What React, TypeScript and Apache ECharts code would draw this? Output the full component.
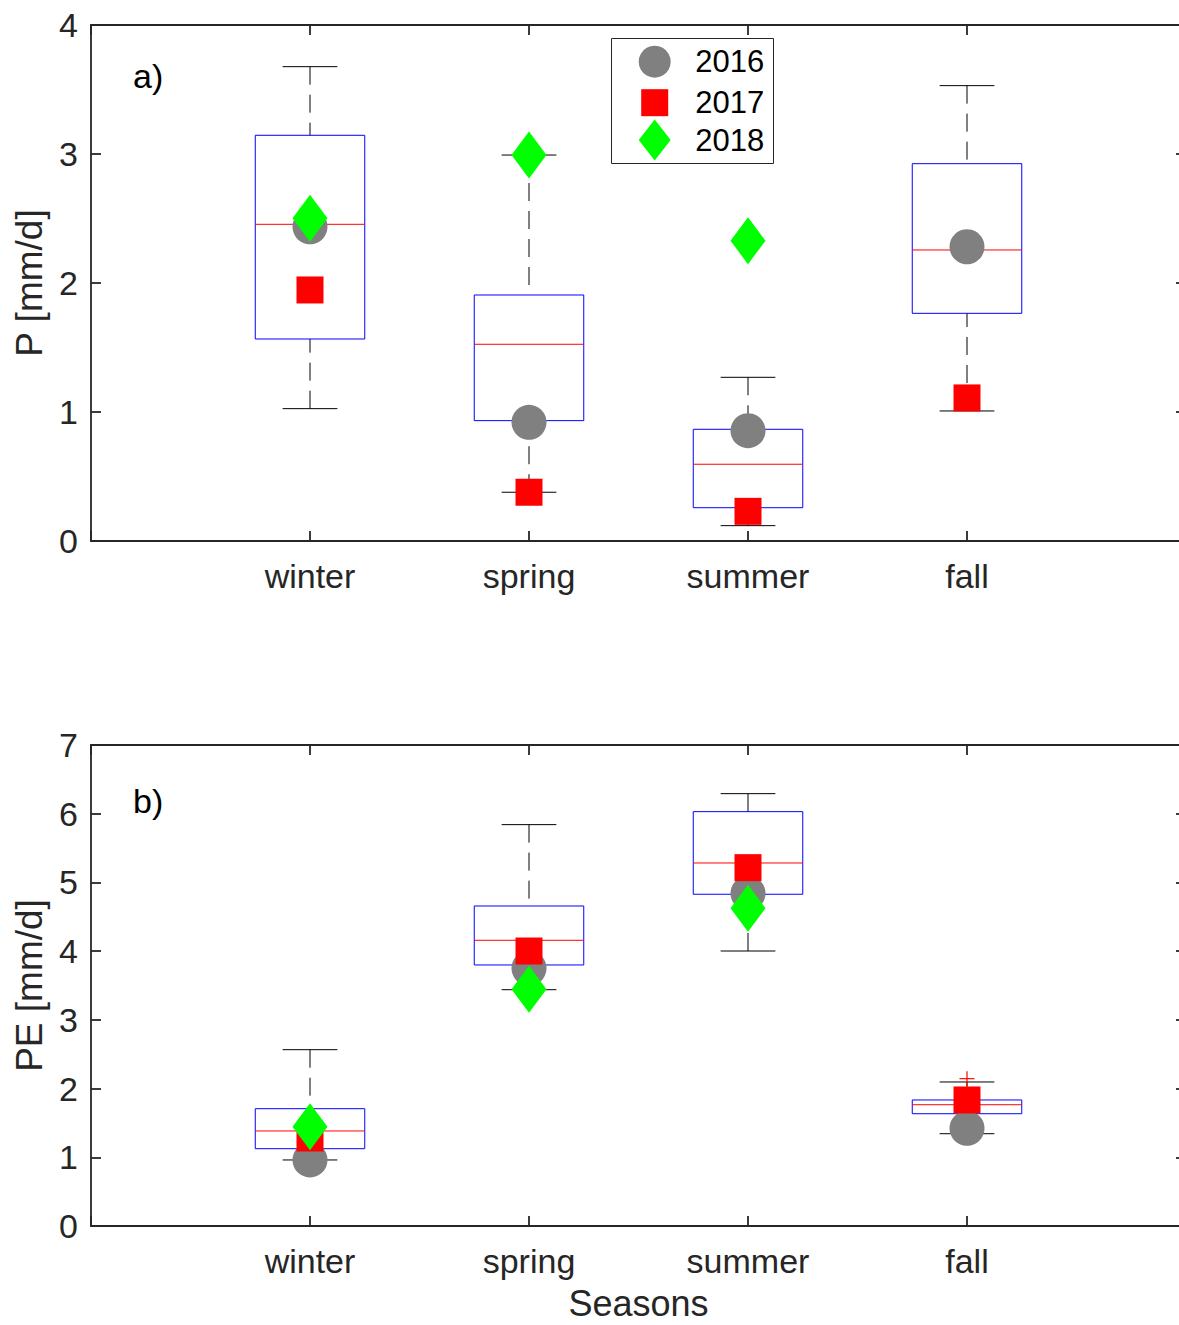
import React, { useEffect, useRef } from 'react';
import * as echarts from 'echarts';

// ---------- data ----------
const seasons = ['winter', 'spring', 'summer', 'fall'];
const years = ['2016', '2017', '2018'];

// Panel a) precipitation P [mm/d] box statistics
const pMin = [1.026, 0.378, 0.119, 1.008];
const pQ1 = [1.566, 0.933, 0.258, 1.765];
const pMedian = [2.455, 1.525, 0.595, 2.256];
const pQ3 = [3.145, 1.907, 0.866, 2.925];
const pMax = [3.677, 2.992, 1.269, 3.53];
// Panel a) yearly values
const p2016 = [2.436, 0.92, 0.855, 2.281];
const p2017 = [1.946, 0.378, 0.23, 1.109];
const p2018 = [2.502, 2.992, 2.328, null];

// Panel b) potential evaporation PE [mm/d] box statistics
const peMin = [0.961, 3.439, 4.002, 1.343];
const peQ1 = [1.125, 3.799, 4.828, 1.634];
const peMedian = [1.383, 4.158, 5.283, 1.765];
const peQ3 = [1.707, 4.657, 6.03, 1.834];
const peMax = [2.566, 5.841, 6.292, 2.096];
const peOutlierSeason = ['fall'];
const peOutlierValue = [2.144];
// Panel b) yearly values
const pe2016 = [0.961, 3.75, 4.842, 1.422];
const pe2017 = [1.281, 4.002, 5.215, 1.834];
const pe2018 = [1.445, 3.445, 4.624, null];

const pTicksMax = 4;
const peTicksMax = 7;

// ---------- helpers ----------
const FONT = '"Liberation Sans", Arial, Helvetica, sans-serif';
const AX = '#262626';

const boxData = (mn: number[], q1: number[], md: number[], q3: number[], mx: number[]) =>
  seasons.map((_, i) => [i + 1, mn[i], q1[i], md[i], q3[i], mx[i]]);

const pointData = (vals: (number | null)[]) =>
  vals.map((v, i) => (v == null ? null : [i + 1, v])).filter((d) => d !== null);

const renderBox = (_params: any, api: any) => {
  const x = api.value(0);
  const mn = api.value(1);
  const q1 = api.value(2);
  const md = api.value(3);
  const q3 = api.value(4);
  const mx = api.value(5);
  const half = 0.25;
  const capHalf = 0.125;
  const [xc, yMin] = api.coord([x, mn]);
  const yQ1 = api.coord([x, q1])[1];
  const yMd = api.coord([x, md])[1];
  const yQ3 = api.coord([x, q3])[1];
  const yMax = api.coord([x, mx])[1];
  const xl = api.coord([x - half, md])[0];
  const xr = api.coord([x + half, md])[0];
  const cl = api.coord([x - capHalf, md])[0];
  const cr = api.coord([x + capHalf, md])[0];
  const whisk = { stroke: '#000', lineWidth: 1, lineDash: [18, 10], fill: null };
  const cap = { stroke: '#000', lineWidth: 1, fill: null };
  return {
    type: 'group',
    children: [
      { type: 'line', shape: { x1: xc, y1: yMax, x2: xc, y2: yQ3 }, style: whisk },
      { type: 'line', shape: { x1: xc, y1: yMin, x2: xc, y2: yQ1 }, style: whisk },
      { type: 'line', shape: { x1: cl, y1: yMax, x2: cr, y2: yMax }, style: cap },
      { type: 'line', shape: { x1: cl, y1: yMin, x2: cr, y2: yMin }, style: cap },
      {
        type: 'rect',
        shape: { x: xl, y: yQ3, width: xr - xl, height: yQ1 - yQ3 },
        style: { fill: 'none', stroke: '#0000ff', lineWidth: 1 },
      },
      { type: 'line', shape: { x1: xl, y1: yMd, x2: xr, y2: yMd }, style: { stroke: '#ff0000', lineWidth: 1 } },
    ],
  };
};

const renderPlus = (_params: any, api: any) => {
  const [cx, cy] = api.coord([api.value(0), api.value(1)]);
  const h = 7.5;
  const st = { stroke: '#ff0000', lineWidth: 1.2 };
  return {
    type: 'group',
    children: [
      { type: 'line', shape: { x1: cx - h, y1: cy, x2: cx + h, y2: cy }, style: st },
      { type: 'line', shape: { x1: cx, y1: cy - h, x2: cx, y2: cy + h }, style: st },
    ],
  };
};

const xAxisDef = (gridIndex: number, position: string, labels: boolean, name?: string) => ({
  type: 'value',
  gridIndex,
  position,
  min: 0,
  max: seasons.length + 1,
  interval: 1,
  name: name || '',
  nameLocation: 'middle',
  nameGap: 62,
  nameTextStyle: { fontSize: 36, lineHeight: 30, color: AX, fontFamily: FONT },
  axisLine: { show: true, onZero: false, lineStyle: { color: AX, width: 1.8 } },
  axisTick: { show: true, inside: true, length: 10, lineStyle: { color: AX, width: 1.8 } },
  axisLabel: {
    show: labels,
    margin: 18,
    fontSize: 34,
    color: AX,
    fontFamily: FONT,
    formatter: (v: number) => seasons[v - 1] ?? '',
  },
  splitLine: { show: false },
});

const yAxisDef = (gridIndex: number, position: string, max: number, labels: boolean, name?: string) => ({
  type: 'value',
  gridIndex,
  position,
  min: 0,
  max,
  interval: 1,
  name: name || '',
  nameLocation: 'middle',
  nameGap: 41,
  nameTextStyle: { fontSize: 37, color: AX, fontFamily: FONT },
  axisLine: { show: true, onZero: false, lineStyle: { color: AX, width: 1.8 } },
  axisTick: { show: true, inside: true, length: 10, lineStyle: { color: AX, width: 1.8 } },
  axisLabel: { show: labels, margin: 13, fontSize: 34, color: AX, fontFamily: FONT },
  splitLine: { show: false },
});

const markerStyles: Record<string, { symbol: string; size: any; color: string; z: number }> = {
  '2016': { symbol: 'circle', size: 35, color: '#808080', z: 3 },
  '2017': { symbol: 'rect', size: 27, color: '#ff0000', z: 4 },
  '2018': { symbol: 'diamond', size: [35, 47], color: '#00ff00', z: 5 },
};

const markerSeries = (name: string, vals: (number | null)[], axis: number) => ({
  type: 'scatter',
  name,
  xAxisIndex: axis,
  yAxisIndex: axis,
  data: pointData(vals),
  symbol: markerStyles[name].symbol,
  symbolSize: markerStyles[name].size,
  itemStyle: { color: markerStyles[name].color, opacity: 1 },
  z: markerStyles[name].z,
  emphasis: { disabled: true },
  silent: true,
});

const legendDef = (name: string, icon: string, w: number, h: number, left: number, top: number, pad: number) => ({
  data: [name],
  icon,
  itemWidth: w,
  itemHeight: h,
  left,
  top,
  padding: 0,
  orient: 'vertical',
  selectedMode: false,
  z: 6,
  textStyle: { fontSize: 31, color: '#000', fontFamily: FONT, lineHeight: 24, padding: [0, 0, 0, pad] },
});

export default function App() {
  const ref = useRef<HTMLDivElement>(null);

  useEffect(() => {
    document.body.style.margin = '0';
    if (!ref.current) return;
    const chart = echarts.init(ref.current, null, { renderer: 'svg' });

    const option: any = {
      animation: false,
      backgroundColor: '#ffffff',
      textStyle: { fontFamily: FONT },
      grid: [
        { left: 91, top: 25, width: 1095, height: 516, outerBoundsMode: 'none', containLabel: false },
        { left: 91, top: 745, width: 1095, height: 481, outerBoundsMode: 'none', containLabel: false },
      ],
      xAxis: [
        xAxisDef(0, 'bottom', true),
        xAxisDef(0, 'top', false),
        xAxisDef(1, 'bottom', true, 'Seasons'),
        xAxisDef(1, 'top', false),
      ],
      yAxis: [
        yAxisDef(0, 'left', pTicksMax, true, 'P [mm/d]'),
        yAxisDef(0, 'right', pTicksMax, false),
        yAxisDef(1, 'left', peTicksMax, true, 'PE [mm/d]'),
        yAxisDef(1, 'right', peTicksMax, false),
      ],
      legend: [
        legendDef(years[0], 'circle', 32, 32, 638.7, 45.7, 19.5),
        legendDef(years[1], 'rect', 27, 27, 641.2, 87.2, 22),
        legendDef(years[2], 'diamond', 32, 41, 638.7, 119.5, 19.5),
      ],
      graphic: [
        {
          type: 'rect',
          z: 5,
          shape: { x: 611.5, y: 38.5, width: 162, height: 125 },
          style: { fill: '#ffffff', stroke: AX, lineWidth: 1 },
        },
        {
          type: 'text',
          x: 133,
          y: 76,
          z: 6,
          style: { text: 'a)', fontSize: 34, fill: '#000', fontFamily: FONT, verticalAlign: 'middle' },
        },
        {
          type: 'text',
          x: 133,
          y: 801,
          z: 6,
          style: { text: 'b)', fontSize: 34, fill: '#000', fontFamily: FONT, verticalAlign: 'middle' },
        },
      ],
      series: [
        {
          type: 'custom',
          name: 'P box',
          xAxisIndex: 0,
          yAxisIndex: 0,
          renderItem: renderBox,
          encode: { x: 0, y: [1, 2, 3, 4, 5] },
          data: boxData(pMin, pQ1, pMedian, pQ3, pMax),
          z: 2,
          silent: true,
        },
        markerSeries('2016', p2016, 0),
        markerSeries('2017', p2017, 0),
        markerSeries('2018', p2018, 0),
        {
          type: 'custom',
          name: 'PE box',
          xAxisIndex: 2,
          yAxisIndex: 2,
          renderItem: renderBox,
          encode: { x: 0, y: [1, 2, 3, 4, 5] },
          data: boxData(peMin, peQ1, peMedian, peQ3, peMax),
          z: 2,
          silent: true,
        },
        {
          type: 'custom',
          name: 'PE outliers',
          xAxisIndex: 2,
          yAxisIndex: 2,
          renderItem: renderPlus,
          encode: { x: 0, y: 1 },
          data: peOutlierSeason.map((s, i) => [seasons.indexOf(s) + 1, peOutlierValue[i]]),
          z: 2,
          silent: true,
        },
        markerSeries('2016', pe2016, 2),
        markerSeries('2017', pe2017, 2),
        markerSeries('2018', pe2018, 2),
      ],
    };

    chart.setOption(option);
    return () => chart.dispose();
  }, []);

  return <div ref={ref} style={{ width: 1179, height: 1325 }} />;
}
